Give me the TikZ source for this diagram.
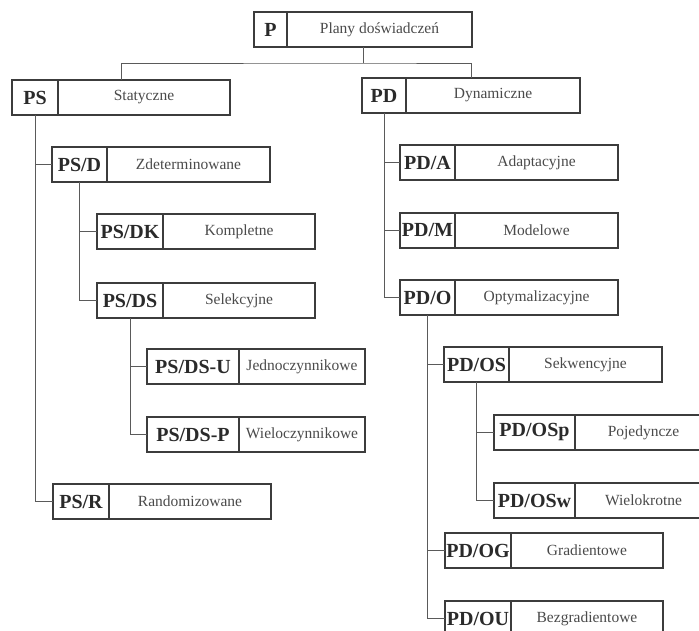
\documentclass[tikz,border=0pt]{standalone}
\usepackage{fontspec}
\setmainfont{Liberation Serif}
\usetikzlibrary{positioning, calc}
\definecolor{ink}{HTML}{2A2A2A}
\definecolor{frame}{HTML}{3C3C3C}
\definecolor{wire}{HTML}{5A5A5A}
\newcommand{\CodeF}{\fontsize{20}{24}\selectfont\bfseries}
\newcommand{\LabelF}{\fontsize{15.5}{18}\selectfont}
% one two-cell box: name, left, top, code width, code, label
\newcommand{\entry}[6]{%
  \node[codecell, minimum width=#4pt, anchor=north west] (#1) at (#2,#3) {#5};
  \node[labelcell, minimum width={(218-#4)*1pt}, right=0pt of #1] (#1-l) {#6};
  \coordinate (#1-n) at ($(#1.north west)!0.5!(#1-l.north east)$);
  \coordinate (#1-s) at ($(#1.south west)!0.5!(#1-l.south east)$);
}
\tikzset{
  codecell/.style={draw=frame, line width=1.3pt, minimum height=35pt, inner sep=0pt,
    outer sep=0pt, font=\CodeF, text=ink},
  labelcell/.style={draw=frame, line width=1.3pt, minimum height=35pt, inner sep=0pt,
    outer sep=0pt, font=\LabelF, text=ink!85},
  link/.style={draw=wire, line width=0.9pt}
}

\begin{document}
\begin{tikzpicture}[x=1pt,y=-1pt]
\useasboundingbox (0,0) rectangle (699,631);
\clip (0,0) rectangle (699,631);
\entry{p}{254}{12}{33}{P}{Plany doświadczeń}
\entry{ps}{12}{80}{46}{PS}{Statyczne}
\entry{pd}{362}{78}{44}{PD}{Dynamiczne}
% left branch
\entry{psd}{52}{147}{55}{PS/D}{Zdeterminowane}
\entry{psdk}{97}{214}{66}{PS/DK}{Kompletne}
\entry{psds}{97}{283}{66}{PS/DS}{Selekcyjne}
\entry{psdsu}{147}{349}{92}{PS/DS-U}{Jednoczynnikowe}
\entry{psdsp}{147}{417}{92}{PS/DS-P}{Wieloczynnikowe}
\entry{psr}{53}{484}{56}{PS/R}{Randomizowane}
% right branch
\entry{pda}{400}{145}{55}{PD/A}{Adaptacyjne}
\entry{pdm}{400}{213}{55}{PD/M}{Modelowe}
\entry{pdo}{400}{280}{55}{PD/O}{Optymalizacyjne}
\entry{pdos}{444}{347}{65}{PD/OS}{Sekwencyjne}
\entry{pdosp}{494}{415}{81}{PD/OSp}{Pojedyncze}
\entry{pdosw}{494}{483}{81}{PD/OSw}{Wielokrotne}
\entry{pdog}{445}{533}{66}{PD/OG}{Gradientowe}
\entry{pdou}{445}{601}{66}{PD/OU}{Bezgradientowe}
% connectors
\coordinate (p-j) at ([yshift=-16pt]p-s);
\draw[link] (p-s) -- (p-j);
\draw[link] (ps-n) |- (p-j) -| (pd-n);
\draw[link] (ps.south) |- (psd.west);
\draw[link] (ps.south) |- (psr.west);
\draw[link] (psd.south) |- (psdk.west);
\draw[link] (psd.south) |- (psds.west);
\draw[link] (psds.south) |- (psdsu.west);
\draw[link] (psds.south) |- (psdsp.west);
\draw[link] (pd.south) |- (pda.west);
\draw[link] (pd.south) |- (pdm.west);
\draw[link] (pd.south) |- (pdo.west);
\draw[link] (pdo.south) |- (pdos.west);
\draw[link] (pdo.south) |- (pdog.west);
\draw[link] (pdo.south) |- (pdou.west);
\draw[link] (pdos.south) |- (pdosp.west);
\draw[link] (pdos.south) |- (pdosw.west);
\end{tikzpicture}
\end{document}
